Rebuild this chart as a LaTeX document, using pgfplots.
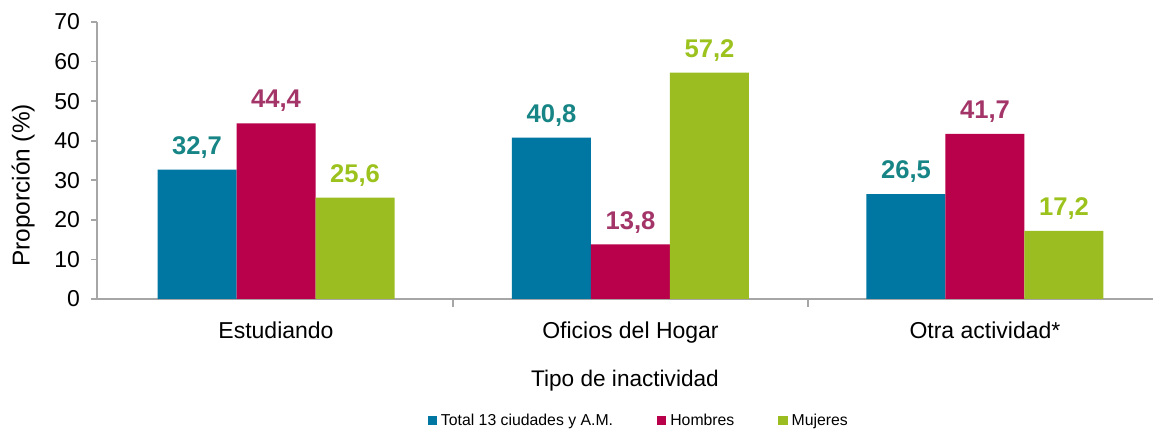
\documentclass[border=0pt]{standalone}
\usepackage{pgfplots}
\pgfplotsset{compat=1.18}
\usepackage{fontspec}
\setmainfont{Liberation Sans}
\definecolor{cblue}{HTML}{0077A3}
\definecolor{cred}{HTML}{B8004B}
\definecolor{cgreen}{HTML}{9BBD22}
\definecolor{lblue}{HTML}{178585}
\definecolor{lred}{HTML}{A33568}
\definecolor{lgreen}{HTML}{9CC21E}
\definecolor{axgray}{HTML}{A6A6A6}
\begin{document}
\begin{tikzpicture}
\useasboundingbox (-48.5pt,-66pt) rectangle (528pt,149.5pt);
\begin{axis}[
  scale only axis,
  width=528pt, height=138.5pt,
  xmin=-0.505, xmax=2.474,
  ymin=0, ymax=70,
  ytick={0,10,...,70},
  xtick={0,1,2},
  xticklabels={Estudiando,Oficios del Hogar,Otra actividad*},
  minor xtick={0.5,1.5},
  major x tick style={draw=none},
  minor tick length=4pt,
  major tick length=3pt,
  tick align=outside,
  axis x line*=bottom, axis y line*=left,
  axis line style={draw=axgray, line width=0.8pt},
  every tick/.style={draw=axgray, line width=0.8pt},
  y axis line style={-}, x axis line style={-},
  ybar, bar width=39.5pt,
  /pgf/number format/assume math mode=true,
  tick label style={font=\fontsize{11.5}{13}\selectfont},
  xticklabel style={yshift=-5pt},
  yticklabel style={xshift=-2pt},
  xlabel={Tipo de inactividad},
  ylabel={Proporción (\%)},
  xlabel style={font=\fontsize{11.3}{13}\selectfont, at={(axis description cs:0.5,-0.296)}, anchor=center},
  ylabel style={font=\fontsize{12.2}{14}\selectfont, at={(axis description cs:-0.07,0.41)}, anchor=center},
  clip=false,
  nodes near coords={\pgfmathprintnumber[use comma,fixed,fixed zerofill,precision=1,assume math mode=true]{\pgfplotspointmeta}},
  nodes near coords style={font=\fontsize{12.8}{14}\bfseries\selectfont, inner sep=0pt, yshift=5.5pt, anchor=south},
  legend style={at={(axis description cs:0.514,-0.44)}, anchor=center, draw=none,
    font=\fontsize{7.9}{9}\selectfont, legend columns=3,
    /tikz/every even column/.append style={column sep=20pt}},
  legend image code/.code={\fill[#1] (0pt,-2.3pt) rectangle (4.6pt,2.3pt);},
]
\addplot[fill=cblue, draw=none, bar shift=-39.5pt, nodes near coords style={color=lblue}] coordinates {(0,32.7) (1,40.8) (2,26.5)};
\addplot[fill=cred, draw=none, bar shift=0pt, nodes near coords style={color=lred}] coordinates {(0,44.4) (1,13.8) (2,41.7)};
\addplot[fill=cgreen, draw=none, bar shift=39.5pt, nodes near coords style={color=lgreen}] coordinates {(0,25.6) (1,57.2) (2,17.2)};
\legend{Total 13 ciudades y A.M.,Hombres,Mujeres}
\end{axis}
\end{tikzpicture}
\end{document}
